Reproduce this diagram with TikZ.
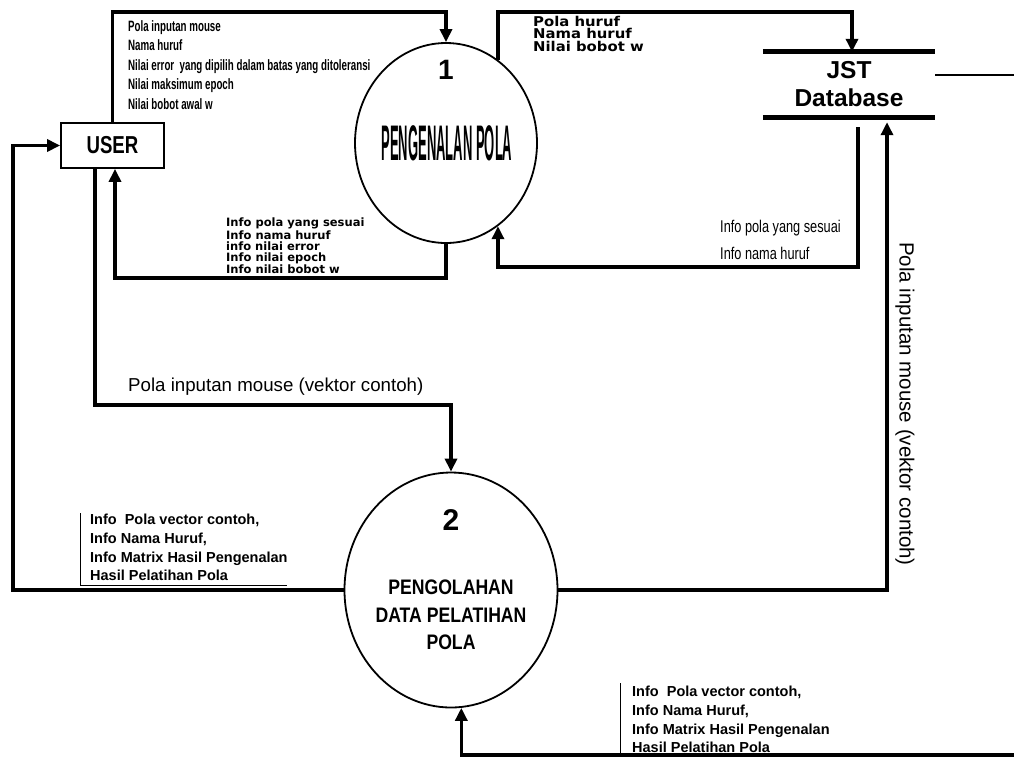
\documentclass[tikz,border=0pt]{standalone}
\usepackage{fontspec}
\setmainfont{Liberation Sans}
\newfontfamily\dvs{DejaVu Sans}
\usetikzlibrary{shapes.geometric,arrows.meta,calc}
\newcommand{\sq}[2]{\scalebox{#1}[1]{#2}}
\begin{document}
\begin{tikzpicture}[x=1pt,y=-1pt,
  flow/.style={line width=3.5pt},
  arr/.style={-{Triangle[length=13pt,width=12pt]}},
  proc/.style={ellipse,draw,line width=1.8pt,inner sep=0pt},
  lbl/.style={anchor=north west,align=left,inner sep=0pt}]
\useasboundingbox (0,0) rectangle (1014,756);

% nodes
\node[draw,line width=1.8pt,minimum width=103pt,minimum height=45pt,inner sep=0pt] (user) at (112.5,145.5)
  {\fontsize{24.5}{25}\selectfont\bfseries\sq{0.76}{USER}};
\node[proc,minimum width=182pt,minimum height=200pt] (p1) at (446,143) {};
\node (n1) at (446,70) {\fontsize{28}{28}\selectfont\bfseries 1};
\node (t1) at (447,143) {\fontsize{50}{50}\selectfont\bfseries\sq{0.26}{PENGENALAN POLA}};

\node[proc,minimum width=213pt,minimum height=235pt] (p2) at (451,590) {};
\node (n2) at (451,520) {\fontsize{30}{30}\selectfont\bfseries 2};
\node[align=center,font=\fontsize{21}{27.5}\selectfont\bfseries] (t2) at (451,615)
  {\sq{0.84}{PENGOLAHAN}\\\sq{0.84}{DATA PELATIHAN}\\\sq{0.84}{POLA}};

\node[minimum width=172pt,minimum height=65pt,inner sep=0pt,align=center,
  font=\fontsize{24.5}{28}\selectfont\bfseries] (jst) at (849,84.5) {JST\\Database};
\draw[line width=5pt] (jst.north west) -- (jst.north east);
\draw[line width=5pt] (jst.south west) -- (jst.south east);

% connectors
\coordinate (a1) at (446,12);
\draw[flow,arr] (user.north) |- (a1) -- (p1.north);
\coordinate (a2) at (852,12);
\draw[flow,arr] (p1.58) |- (a2) -- (jst.north -| a2);
\coordinate (a3) at (858,267);
\draw[flow,arr] ($(jst.south -| a3)+(0,10)$) -- (a3) -| (p1.-58);
\coordinate (a4) at (115,278);
\draw[flow,arr] (p1.south) |- (a4) -- (user.south -| a4);
\coordinate (a5) at (95,405);
\draw[flow,arr] (user.south -| a5) -- (a5) -| (p2.north);
\coordinate (a6) at (13,590);
\draw[flow,arr] (p2.west) -- (p2.west -| a6) |- (user.west);
\coordinate (a7) at (887,0);
\draw[flow,arr] (p2.east) -| ($(jst.south -| a7)+(0,5)$);
\coordinate (a8) at (1014,755);
\draw[flow,arr] (a8) -| (p2.-85);
\coordinate (a9) at (1014,75);
\draw[line width=2.5pt] (jst.east |- a9) -- (a9);

% labels
\node[lbl,font=\fontsize{15}{19.5}\selectfont\bfseries] (l1) at (128,20)
  {\sq{0.65}{Pola inputan mouse}\\\sq{0.65}{Nama huruf}\\\sq{0.65}{Nilai error\ \ yang dipilih dalam batas yang ditoleransi}\\\sq{0.65}{Nilai maksimum epoch}\\\sq{0.65}{Nilai bobot awal w}};
\node[lbl,font=\dvs\fontsize{13.5}{12.5}\selectfont\bfseries] (l2) at (533,16)
  {\sq{1.1}{Pola huruf}\\\sq{1.1}{Nama huruf}\\\sq{1.1}{Nilai bobot w}};
\node[lbl,font=\dvs\fontsize{11.5}{11}\selectfont\bfseries] (l3) at (226,218)
  {Info pola yang sesuai\\Info nama huruf\\info nilai error\\Info nilai epoch\\Info nilai bobot w};
\node[lbl,font=\fontsize{17}{27}\selectfont] (l4) at (720,220)
  {\sq{0.75}{Info pola yang sesuai}\\\sq{0.75}{Info nama huruf}};
\node[anchor=west,inner sep=0pt,font=\fontsize{18.7}{20}\selectfont] (l5) at (128,387)
  {Pola inputan mouse (vektor contoh)};
\node[rotate=-90,inner sep=0pt,font=\fontsize{20.5}{20}\selectfont] (l6) at (905,404)
  {Pola inputan mouse (vektor contoh)};
\node[lbl,font=\fontsize{14.5}{18.7}\selectfont\bfseries] (l7) at (90,514)
  {Info\ \ Pola vector contoh,\\Info Nama Huruf,\\Info Matrix Hasil Pengenalan\\Hasil Pelatihan Pola};
\draw[line width=1pt] (80,513) -- (80,585) -- (287,585);
\node[lbl,font=\fontsize{14.5}{18.7}\selectfont\bfseries] (l8) at (632,686)
  {Info\ \ Pola vector contoh,\\Info Nama Huruf,\\Info Matrix Hasil Pengenalan\\Hasil Pelatihan Pola};
\draw[line width=1pt] (620,683) -- (620,756);
\end{tikzpicture}
\end{document}
